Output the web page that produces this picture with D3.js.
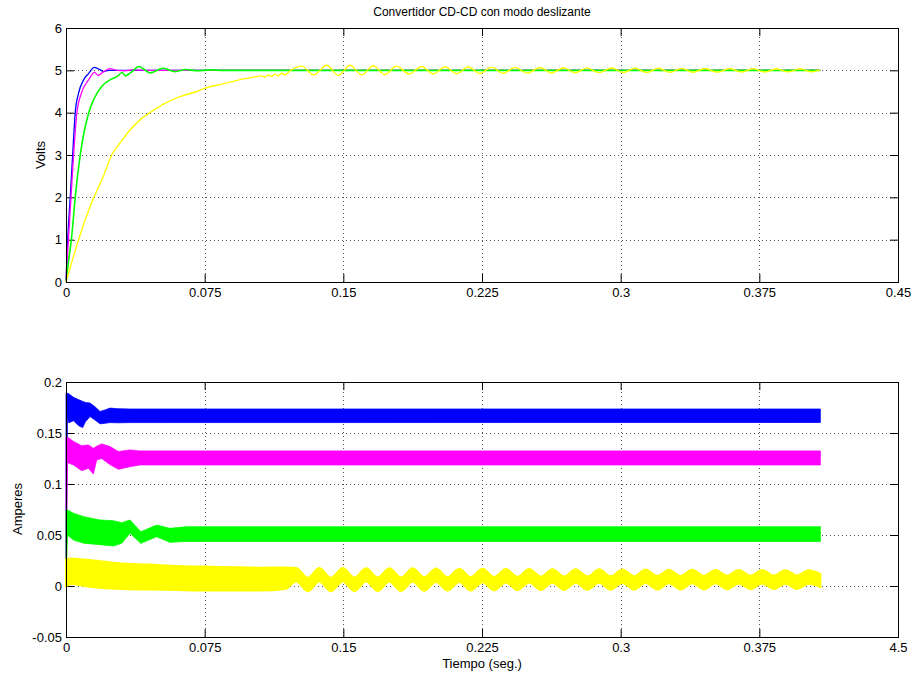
<!DOCTYPE html>
<head>
  <meta charset="utf-8">
  <script src="https://d3js.org/d3.v7.min.js"></script>
  <style>
    body { margin:0; background:#fff; }
    svg text { font-family: "Liberation Sans", Arial, Helvetica, sans-serif; fill:#000; }
  </style>
</head>
<body>
<script>

// ---- tick values / labels
var xTicks = [0, 0.075, 0.15, 0.225, 0.3, 0.375, 0.45];
var xLabelsTop = ["0", "0.075", "0.15", "0.225", "0.3", "0.375", "0.45"];
var xLabelsBottom = ["0", "0.075", "0.15", "0.225", "0.3", "0.375", "4.5"];
var vTicks = [0, 1, 2, 3, 4, 5, 6];
var vLabels = ["0", "1", "2", "3", "4", "5", "6"];
var iTicks = [-0.05, 0, 0.05, 0.1, 0.15, 0.2];
var iLabels = ["-0.05", "0", "0.05", "0.1", "0.15", "0.2"];

// ---- voltage (top), [t, volts]
var vBlue = [[0,0],[0.0009,1],[0.0023,2],[0.0036,3],[0.005,4],[0.0068,4.46],[0.0096,4.78],
  [0.0123,4.93],[0.0153,5.07],[0.0186,5.01],[0.0204,4.97],[0.023,5.0],[0.026,5.0],[0.408,5.0]];
var vMagenta = [[0,0],[0.0013,1],[0.0027,2],[0.0041,3],[0.0059,4],[0.0083,4.46],[0.0123,4.78],
  [0.0155,4.95],[0.0173,4.88],[0.0204,4.97],[0.024,5.04],[0.0276,5.0],[0.032,4.99],[0.036,5.01],
  [0.045,5.0],[0.408,5.0]];
var vGreen = [[0,0],[0.0014,0.5],[0.0029,1],[0.005,2],[0.0077,3],[0.0123,4],[0.015,4.31],[0.0195,4.63],
  [0.024,4.78],[0.0276,4.85],[0.0303,4.95],[0.0321,4.87],[0.0357,4.97],[0.0393,5.09],[0.0456,4.94],
  [0.0526,5.05],[0.059,4.97],[0.065,5.02],[0.071,4.99],[0.078,5.01],[0.085,5.0],[0.408,5.0]];
var vYellow = [[0,0],[0.0068,1],[0.013,1.78],[0.0151,2],[0.0202,2.5],[0.0247,3],[0.0292,3.28],
  [0.0346,3.59],[0.04,3.83],[0.0454,4.0],[0.0535,4.22],[0.0617,4.38],[0.0707,4.5],[0.0752,4.58],
  [0.0851,4.68],[0.0941,4.78],[0.1031,4.85],[0.1058,4.87],[0.1076,4.84],[0.1094,4.89],[0.1112,4.86],
  [0.113,4.91],[0.1148,4.87],[0.1166,4.93],[0.1184,4.89],[0.1212,4.99],
  [0.1275,5.10],[0.134,4.89],[0.141,5.12],[0.1473,4.88],[0.1536,5.12],[0.1599,4.89],[0.1662,5.11],
  [0.1725,4.90],[0.1788,5.10],[0.1856,4.91],[0.1924,5.09],[0.1987,4.915],[0.205,5.085],[0.2113,4.92],
  [0.2176,5.08],[0.2239,4.925],[0.2302,5.075],[0.2365,4.93],[0.2428,5.07],[0.2495,4.934],[0.2563,5.066],
  [0.2626,4.938],[0.269,5.062],[0.2753,4.942],[0.2816,5.058],[0.2883,4.945],[0.2951,5.055],[0.3014,4.948],
  [0.3077,5.052],[0.314,4.95],[0.3203,5.05],[0.3266,4.953],[0.333,5.047],[0.3393,4.955],[0.3456,5.045],
  [0.3523,4.958],[0.359,5.042],[0.3653,4.96],[0.3717,5.04],[0.378,4.962],[0.3843,5.038],[0.3906,4.964],
  [0.397,5.036],[0.4033,4.966],[0.408,5.01]];

// ---- current (bottom), ripple band [t, low, high]
var iBlue = [[0,0,0.189],[0.0008,0.166,0.189],[0.0015,0.160,0.1885],[0.004,0.162,0.185],[0.007,0.157,0.1825],
  [0.009,0.1553,0.181],[0.0105,0.161,0.180],[0.013,0.1661,0.1793],[0.0155,0.163,0.176],[0.0184,0.159,0.1711],
  [0.021,0.1595,0.1725],[0.0238,0.1602,0.1744],[0.028,0.160,0.1738],[0.035,0.1602,0.1735],[0.408,0.1603,0.1735]];
var iMagenta = [[0,0,0.146],[0.0008,0.121,0.146],[0.0041,0.1187,0.1416],[0.0085,0.1131,0.1375],
  [0.0121,0.1154,0.1383],[0.0148,0.1098,0.135],[0.0166,0.1236,0.137],[0.0193,0.125,0.1393],
  [0.0238,0.119,0.1367],[0.0283,0.1144,0.1318],[0.0346,0.117,0.1334],[0.04,0.1187,0.1324],[0.408,0.1187,0.1324]];
var iGreen = [[0,0,0.0745],[0.0008,0.05,0.0745],[0.0041,0.045,0.0713],[0.0095,0.042,0.068],[0.0184,0.0405,0.0647],
  [0.0256,0.0392,0.064],[0.0301,0.0418,0.0621],[0.0346,0.0516,0.0647],[0.0405,0.0418,0.0532],
  [0.049,0.0483,0.0597],[0.0562,0.0428,0.0565],[0.065,0.0437,0.0581],[0.408,0.0437,0.0581]];
var iYellow = [[0,0,0.026],[0.003,0.002,0.027],[0.01,0.0,0.026],[0.02,-0.002,0.024],[0.03,-0.003,0.022],
  [0.045,-0.0035,0.021],[0.06,-0.004,0.0195],[0.075,-0.0045,0.019],[0.09,-0.0045,0.0185],[0.105,-0.0045,0.018],
  [0.1185,-0.003,0.0182],
  [0.1245,0.0045,0.0177],[0.1308,-0.0051,0.0081],[0.137,0.0045,0.0177],[0.1433,-0.0051,0.0081],
  [0.1497,0.0044,0.0176],[0.156,-0.005,0.0082],[0.1623,0.0043,0.0175],[0.1686,-0.0049,0.0083],
  [0.1749,0.0042,0.0174],[0.1812,-0.0048,0.0084],[0.1875,0.0041,0.0173],[0.1938,-0.0047,0.0085],
  [0.2001,0.0039,0.0171],[0.2064,-0.0045,0.0087],[0.2127,0.0038,0.017],[0.219,-0.0044,0.0088],
  [0.2253,0.0037,0.0169],[0.2316,-0.0043,0.0089],[0.2379,0.0035,0.0167],[0.2442,-0.0041,0.0091],
  [0.2505,0.0034,0.0166],[0.2568,-0.004,0.0092],[0.2631,0.0033,0.0165],[0.2694,-0.0039,0.0093],
  [0.2757,0.0032,0.0164],[0.282,-0.0038,0.0094],[0.2883,0.0031,0.0163],[0.2946,-0.0037,0.0095],
  [0.3009,0.003,0.0162],[0.3072,-0.0036,0.0096],[0.3135,0.0029,0.0161],[0.3198,-0.0035,0.0097],
  [0.3261,0.0028,0.016],[0.3324,-0.0034,0.0098],[0.3387,0.0027,0.0159],[0.345,-0.0033,0.0099],
  [0.3513,0.0026,0.0158],[0.3576,-0.0032,0.01],[0.3639,0.0025,0.0157],[0.3702,-0.0031,0.0101],
  [0.3765,0.0024,0.0156],[0.3828,-0.003,0.0102],[0.3891,0.0023,0.0155],[0.3954,-0.0029,0.0103],
  [0.4017,0.0022,0.0154],[0.408,-0.001,0.0118]];

var W = 913, H = 673;

var svg = d3.select("body").append("svg")
  .attr("width", W)
  .attr("height", H);

var x = d3.scaleLinear().domain([0, 0.45]).range([66, 898]);
var yV = d3.scaleLinear().domain([0, 6]).range([282, 28]);
var yI = d3.scaleLinear().domain([-0.05, 0.2]).range([637, 382]);

function frame(y, yTicks, yLabels, xLabels) {
  var g = svg.append("g");
  var y0 = y.range()[0], y1 = y.range()[1];

  // dotted grid
  xTicks.slice(1, -1).forEach(function(t) {
    g.append("line")
      .attr("x1", Math.round(x(t)) + 0.5).attr("x2", Math.round(x(t)) + 0.5)
      .attr("y1", y0).attr("y2", y1)
      .style("stroke", "#555").style("stroke-dasharray", "1,3");
  });
  yTicks.slice(1, -1).forEach(function(t) {
    g.append("line")
      .attr("y1", Math.round(y(t)) + 0.5).attr("y2", Math.round(y(t)) + 0.5)
      .attr("x1", 66).attr("x2", 898)
      .style("stroke", "#555").style("stroke-dasharray", "1,3");
  });

  var ax = [
    [d3.axisBottom(x).tickValues(xTicks).tickFormat(function(d, i) { return xLabels[i]; }).tickPadding(6), "translate(0," + y0 + ")"],
    [d3.axisTop(x).tickValues(xTicks).tickFormat(""), "translate(0," + y1 + ")"],
    [d3.axisLeft(y).tickValues(yTicks).tickFormat(function(d, i) { return yLabels[i]; }).tickPadding(4), "translate(66,0)"],
    [d3.axisRight(y).tickValues(yTicks).tickFormat(""), "translate(898,0)"]
  ];
  ax.forEach(function(a) {
    var s = svg.append("g").attr("class", "axis").attr("transform", a[1])
      .call(a[0].tickSize(-8));
    s.select(".domain").remove();
    s.selectAll("line").style("stroke", "#000");
    s.selectAll("text").attr("font-size", 13).attr("font-family", null);
  });
  return g;
}

frame(yV, vTicks, vLabels, xLabelsTop);
frame(yI, iTicks, iLabels, xLabelsBottom);

// voltage lines
var line = d3.line()
  .x(function(d) { return x(d[0]); })
  .y(function(d) { return yV(d[1]); })
  .curve(d3.curveMonotoneX);

[[vBlue, "#0000ff", 1.3], [vMagenta, "#ff00ff", 1.3], [vGreen, "#00ff00", 1.6], [vYellow, "#ffff00", 1.4]].forEach(function(s) {
  svg.append("path")
    .attr("d", line(s[0]))
    .style("fill", "none")
    .style("stroke", s[1])
    .style("stroke-width", s[2]);
});

// current ripple bands
var band = d3.area()
  .x(function(d) { return x(d[0]); })
  .y0(function(d) { return yI(d[1]); })
  .y1(function(d) { return yI(d[2]); });

[[iBlue, "#0000ff", d3.curveLinear, 0.8], [iMagenta, "#ff00ff", d3.curveLinear, 0.8],
 [iGreen, "#00ff00", d3.curveLinear, 0.8], [iYellow, "#ffff00", d3.curveMonotoneX, 2]].forEach(function(s) {
  svg.append("path")
    .attr("d", band.curve(s[2])(s[0]))
    .style("fill", s[1])
    .style("stroke", s[1])
    .style("stroke-width", s[3]);
});

// boxes on top
[yV, yI].forEach(function(y) {
  svg.append("rect")
    .attr("x", 66.5).attr("y", y.range()[1] + 0.5)
    .attr("width", 832).attr("height", y.range()[0] - y.range()[1])
    .style("fill", "none").style("stroke", "#000").style("stroke-width", 1);
});

// texts
svg.append("text")
  .attr("x", 482).attr("y", 16)
  .attr("text-anchor", "middle")
  .attr("font-size", 12)
  .text("Convertidor CD-CD con modo deslizante");

svg.append("text")
  .attr("transform", "translate(45,155) rotate(-90)")
  .attr("text-anchor", "middle")
  .attr("font-size", 13)
  .text("Volts");

svg.append("text")
  .attr("transform", "translate(22,509) rotate(-90)")
  .attr("text-anchor", "middle")
  .attr("font-size", 13)
  .text("Amperes");

svg.append("text")
  .attr("x", 482).attr("y", 668)
  .attr("text-anchor", "middle")
  .attr("font-size", 13)
  .text("Tiempo (seg.)");

</script>
</body>
